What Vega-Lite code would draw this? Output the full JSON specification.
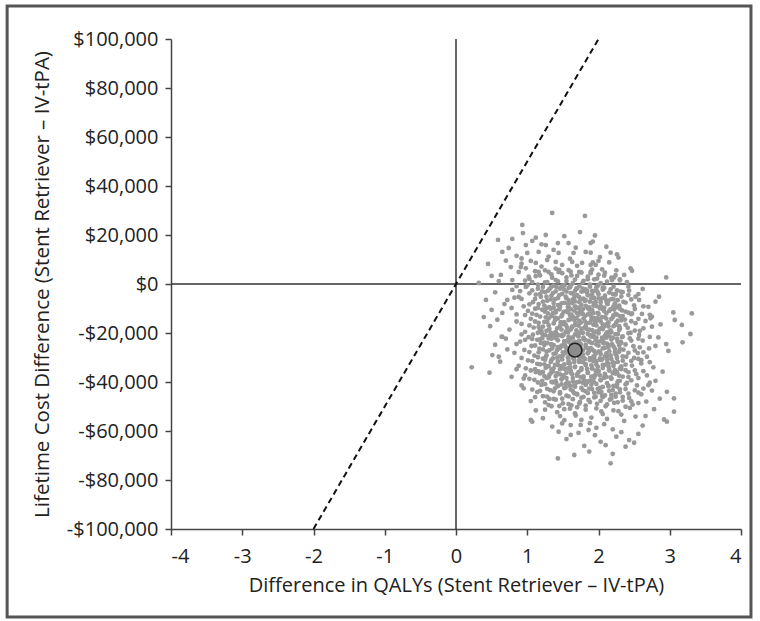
{
  "$schema": "https://vega.github.io/schema/vega-lite/v6.json",
  "width": 570,
  "height": 490,
  "autosize": "none",
  "padding": {"left": 171, "top": 39, "right": 19, "bottom": 92},
  "background": "white",
  "encoding": {
    "x": {
      "field": "q",
      "type": "quantitative",
      "scale": {"domain": [-4, 4], "nice": false, "zero": false},
      "axis": {
        "values": [-4, -3, -2, -1, 0, 1, 2, 3, 4],
        "title": "Difference in QALYs (Stent Retriever – IV-tPA)",
        "labelExpr": "datum.value < 0 ? '-' + abs(datum.value) : '' + datum.value",
        "labelPadding": 11,
        "titlePadding": 9
      }
    },
    "y": {
      "field": "c",
      "type": "quantitative",
      "scale": {"domain": [-100000, 100000], "nice": false, "zero": false},
      "axis": {
        "values": [-100000, -80000, -60000, -40000, -20000, 0, 20000, 40000, 60000, 80000, 100000],
        "title": "Lifetime Cost Difference (Stent Retriever – IV-tPA)",
        "labelExpr": "(datum.value < 0 ? '-' : '') + '$' + format(abs(datum.value), ',')",
        "labelPadding": 7,
        "titlePadding": 14,
        "titleFontSize": 20.5
      }
    }
  },
  "layer": [
    {
      "data": {"values": [{"q": -6.3, "q2": 4.14, "c": 113500, "c2": -135900}]},
      "mark": {"type": "rect", "filled": false, "stroke": "#555555", "strokeWidth": 3, "clip": false},
      "encoding": {"x2": {"field": "q2"}, "y2": {"field": "c2"}}
    },
    {
      "data": {"values": [{"q": 0, "c": -100000, "c2": 100000}]},
      "mark": {"type": "rule", "color": "#333333", "strokeWidth": 1.5},
      "encoding": {"y2": {"field": "c2"}}
    },
    {
      "data": {"values": [{"q": -4, "q2": 4, "c": 0}]},
      "mark": {"type": "rule", "color": "#333333", "strokeWidth": 1.5},
      "encoding": {"x2": {"field": "q2"}}
    },
    {
      "data": {"values": [{"q": -2, "c": -100000}, {"q": 2, "c": 100000}]},
      "mark": {"type": "line", "color": "#111111", "strokeWidth": 2, "strokeDash": [6, 4]},
      "encoding": {}
    },
    {
      "data": {
        "format": {"type": "csv", "parse": {"q": "number", "c": "number"}},
        "values": "q,c\n1.35,29000\n1.81,27800\n0.93,24100\n1.26,20000\n0.94,20800\n1.74,21200\n0.59,18000\n0.79,18400\n1.07,17600\n1.43,16700\n1.26,15900\n1.58,16700\n0.65,13100\n0.74,14700\n0.98,15900\n1.00,12700\n1.16,13100\n1.37,13900\n1.44,12700\n1.65,12700\n1.82,13100\n1.89,16700\n0.77,6900\n0.91,6900\n1.12,8600\n1.28,9800\n1.40,9000\n1.49,7800\n1.63,9000\n1.77,8600\n1.89,7800\n0.50,3300\n0.63,3700\n0.88,4900\n1.16,4900\n1.30,4900\n1.44,4900\n1.58,5700\n1.73,4900\n1.89,4900\n0.32,400\n0.79,1600\n1.07,800\n1.40,1600\n0.79,-2400\n0.98,-1200\n0.42,-6500\n0.50,-10600\n0.39,-13500\n0.65,-11800\n0.72,-6500\n0.88,-5300\n0.65,-21600\n1.92,17300\n1.89,12800\n2.17,12800\n2.26,12100\n2.05,6000\n1.96,7800\n1.89,4400\n2.45,6400\n2.47,5400\n2.36,3700\n2.22,2700\n2.19,1600\n2.95,2700\n2.43,-2700\n2.57,-6500\n2.52,-5200\n2.85,-5200\n2.80,-7200\n2.38,-11300\n2.47,-12000\n2.61,-12200\n2.75,-13300\n2.73,-14000\n3.31,-12000\n3.07,-14700\n3.17,-16700\n2.75,-17400\n2.57,-20800\n3.29,-20400\n0.64,-21500\n0.51,-29000\n0.60,-29700\n0.72,-26700\n0.22,-34000\n0.47,-36200\n0.98,-34400\n1.05,-55500\n1.07,-56200\n1.43,-71200\n1.28,-46000\n1.30,-49400\n1.44,-60300\n1.49,-56900\n1.61,-61600\n1.87,-68400\n2.95,-24500\n2.80,-25300\n2.68,-29700\n2.60,-32400\n2.80,-39500\n2.96,-44000\n3.06,-46700\n3.06,-52100\n2.96,-56200\n2.66,-53900\n2.43,-63700\n2.38,-66400\n2.03,-64400\n2.17,-73200\n0.85,11500\n1.12,18900\n1.52,19500\n1.68,14800\n2.02,11000\n2.11,15200\n1.30,11200\n0.92,10400\n1.95,19800\n1.60,10300\n2.28,10800\n1.20,16200\n0.45,8200\n0.70,9500\n1.02,3000\n1.20,7100\n1.35,2600\n1.55,1200\n1.62,3500\n1.70,7400\n1.85,1900\n1.98,2200\n2.08,3400\n2.15,8800\n2.30,1500\n1.05,9400\n1.45,5800\n0.60,1200\n1.25,700\n1.78,600\n2.00,9400\n2.40,800\n1.12,3200\n0.98,6400\n1.67,1800\n1.92,8800\n2.25,5600\n0.55,-3400\n0.68,-8200\n0.82,-5600\n0.95,-9100\n1.03,-3800\n1.08,-7400\n1.15,-1900\n1.19,-5200\n1.24,-8800\n1.29,-2800\n1.33,-6300\n1.37,-9600\n1.41,-1200\n1.45,-4600\n1.48,-7900\n1.52,-2300\n1.55,-5800\n1.58,-9200\n1.61,-600\n1.64,-3900\n1.67,-7100\n1.70,-1800\n1.73,-5400\n1.76,-8500\n1.79,-2900\n1.82,-6600\n1.85,-9900\n1.88,-1100\n1.91,-4300\n1.94,-7600\n1.97,-2500\n2.00,-5900\n2.03,-9000\n2.06,-1500\n2.09,-4800\n2.13,-8200\n2.17,-2200\n2.21,-6100\n2.26,-9400\n2.31,-3100\n2.35,-7300\n2.42,-4500\n2.50,-8700\n2.62,-2000\n2.70,-9300\n1.12,-4300\n1.36,-3700\n1.57,-8100\n1.84,-3600\n2.11,-6900\n0.78,-9800\n1.00,-600\n1.27,-9900\n1.50,-700\n1.72,-9700\n1.99,-700\n2.24,-4000\n0.90,-2900\n1.43,-8600\n1.93,-8800\n0.48,-17200\n0.58,-14600\n0.75,-18600\n0.85,-12400\n0.92,-16300\n0.97,-19500\n1.01,-11000\n1.05,-14200\n1.09,-17800\n1.13,-12600\n1.16,-15900\n1.20,-19200\n1.23,-10700\n1.26,-13600\n1.30,-16800\n1.33,-19900\n1.36,-11900\n1.39,-14800\n1.42,-18100\n1.45,-10300\n1.48,-13200\n1.51,-16400\n1.54,-19600\n1.57,-11500\n1.60,-14400\n1.63,-17600\n1.66,-10900\n1.69,-13900\n1.72,-17000\n1.75,-19800\n1.78,-12200\n1.81,-15300\n1.84,-18500\n1.87,-10500\n1.90,-13500\n1.93,-16600\n1.96,-19400\n1.99,-11800\n2.02,-14900\n2.05,-18000\n2.08,-11100\n2.11,-14100\n2.14,-17300\n2.18,-19700\n2.21,-12800\n2.25,-15700\n2.29,-18800\n2.33,-10800\n2.37,-14500\n2.41,-17900\n2.46,-12300\n2.52,-16000\n2.58,-19100\n2.66,-15100\n2.87,-16500\n3.05,-11600\n1.11,-10100\n1.29,-12000\n1.47,-15600\n1.62,-12500\n1.80,-17900\n1.95,-15100\n2.12,-19800\n2.30,-13100\n1.40,-11600\n1.68,-16100\n1.88,-12300\n2.06,-16500\n2.22,-10400\n1.18,-18700\n1.56,-17700\n1.74,-11300\n2.00,-19200\n2.45,-19900\n0.55,-24800\n0.70,-22300\n0.82,-28100\n0.90,-23500\n0.96,-26900\n1.02,-21700\n1.06,-25300\n1.10,-29200\n1.14,-22800\n1.17,-26400\n1.21,-20300\n1.24,-23900\n1.27,-27600\n1.31,-21200\n1.34,-24700\n1.37,-28500\n1.40,-22100\n1.43,-25800\n1.46,-29500\n1.49,-20800\n1.52,-23300\n1.55,-27100\n1.58,-21500\n1.61,-24300\n1.64,-28800\n1.67,-20600\n1.70,-23700\n1.73,-26600\n1.76,-29900\n1.79,-22500\n1.82,-25600\n1.85,-28300\n1.88,-20900\n1.91,-24100\n1.94,-27400\n1.97,-21900\n2.00,-25100\n2.03,-28600\n2.06,-22700\n2.09,-26100\n2.12,-29400\n2.15,-21300\n2.19,-24500\n2.23,-27800\n2.27,-20500\n2.31,-23600\n2.35,-26800\n2.39,-29700\n2.44,-22200\n2.49,-25400\n2.55,-28200\n2.62,-23100\n2.71,-26300\n2.84,-21800\n2.98,-27300\n3.18,-23800\n1.08,-20700\n1.26,-29800\n1.44,-21000\n1.60,-29000\n1.78,-27000\n1.96,-23000\n2.14,-25700\n2.33,-21700\n1.35,-26300\n1.53,-25200\n1.71,-21100\n1.89,-26200\n2.07,-24200\n2.25,-29100\n1.19,-24100\n1.39,-20000\n1.57,-22900\n1.75,-24600\n1.93,-29600\n2.11,-20200\n2.29,-25000\n2.58,-25900\n1.50,-27900\n1.86,-23200\n0.62,-31700\n0.78,-37900\n0.88,-33400\n0.95,-38600\n1.01,-31200\n1.05,-35300\n1.10,-39100\n1.14,-32600\n1.18,-36500\n1.22,-30500\n1.26,-34200\n1.30,-38100\n1.33,-31800\n1.36,-35700\n1.40,-39600\n1.43,-33100\n1.46,-36900\n1.49,-30800\n1.52,-34600\n1.55,-38400\n1.58,-32300\n1.61,-36100\n1.64,-39800\n1.67,-33700\n1.70,-37400\n1.73,-31000\n1.76,-35000\n1.79,-38800\n1.82,-32700\n1.85,-36300\n1.88,-30300\n1.91,-34400\n1.94,-38200\n1.97,-31500\n2.00,-35500\n2.03,-39300\n2.06,-33000\n2.09,-36700\n2.12,-30700\n2.15,-34800\n2.18,-38700\n2.22,-32200\n2.26,-36000\n2.30,-39500\n2.34,-31300\n2.38,-35200\n2.42,-38000\n2.47,-33300\n2.53,-36800\n2.60,-31100\n2.68,-37300\n2.77,-34000\n2.90,-35800\n1.24,-37600\n1.42,-30100\n1.60,-34100\n1.78,-31900\n1.96,-37000\n2.14,-32500\n2.32,-34700\n1.12,-36000\n1.48,-39000\n1.66,-30900\n1.84,-39900\n2.02,-30400\n2.20,-36400\n2.50,-30200\n1.34,-34900\n1.90,-33200\n2.08,-38300\n0.95,-42600\n1.05,-47800\n1.14,-44100\n1.20,-41200\n1.25,-48300\n1.32,-43300\n1.37,-46900\n1.41,-40700\n1.46,-44700\n1.50,-48700\n1.54,-42200\n1.58,-45900\n1.62,-49500\n1.66,-41500\n1.70,-44900\n1.74,-48100\n1.78,-40300\n1.82,-43800\n1.86,-47300\n1.90,-41100\n1.94,-44400\n1.98,-48900\n2.02,-42400\n2.06,-46200\n2.10,-49900\n2.14,-41800\n2.18,-45300\n2.22,-48500\n2.26,-40900\n2.30,-44200\n2.34,-47600\n2.38,-42900\n2.43,-46500\n2.48,-49200\n2.54,-41400\n2.60,-45000\n2.67,-48000\n2.75,-43500\n2.86,-46800\n1.45,-49800\n1.64,-43700\n1.84,-40100\n2.04,-44000\n2.24,-46000\n2.40,-40400\n1.76,-46400\n1.96,-46000\n2.16,-47200\n2.56,-44300\n1.56,-40200\n2.70,-41300\n1.12,-51600\n1.22,-54800\n1.35,-58200\n1.42,-52300\n1.52,-55600\n1.60,-50900\n1.68,-53700\n1.75,-57500\n1.82,-51300\n1.90,-54500\n1.97,-58700\n2.04,-52000\n2.12,-55100\n2.20,-59300\n2.28,-51900\n2.36,-55900\n2.44,-50600\n2.52,-54100\n2.62,-57800\n2.78,-51100\n2.92,-55300\n1.86,-59600\n2.08,-57200\n2.32,-53300\n1.70,-50300\n1.55,-63300\n1.72,-60800\n1.80,-66100\n1.95,-61700\n2.10,-65800\n2.25,-62300\n2.32,-60500\n2.50,-64800\n1.66,-69800\n2.20,-69300\n2.56,-61200\n1.03,2100\n1.03,-8300\n1.03,-16900\n1.03,-27800\n1.03,-38700\n1.07,-2600\n1.07,-12100\n1.07,-22400\n1.07,-31500\n1.07,-43100\n1.11,5200\n1.11,-6100\n1.11,-15300\n1.11,-25100\n1.11,-34800\n1.11,-46200\n1.15,-300\n1.15,-9800\n1.15,-19900\n1.15,-29900\n1.15,-40200\n1.18,3500\n1.18,-4100\n1.18,-13300\n1.18,-22600\n1.18,-32800\n1.18,-43600\n1.22,-1200\n1.22,-7200\n1.22,-17400\n1.22,-26700\n1.22,-35900\n1.22,-45800\n1.25,5600\n1.25,-3300\n1.25,-11300\n1.25,-20900\n1.25,-30900\n1.25,-40900\n1.25,-51300\n1.28,800\n1.28,-6800\n1.28,-15400\n1.28,-24100\n1.28,-33600\n1.28,-42800\n1.31,-2100\n1.31,-9400\n1.31,-18300\n1.31,-27100\n1.31,-37100\n1.31,-46900\n1.34,3900\n1.34,-4800\n1.34,-13100\n1.34,-22300\n1.34,-31000\n1.34,-40000\n1.34,-49900\n1.37,-700\n1.37,-7800\n1.37,-16100\n1.37,-25000\n1.37,-34400\n1.37,-43800\n1.40,6300\n1.40,-3000\n1.40,-10900\n1.40,-19700\n1.40,-28300\n1.40,-37600\n1.40,-47200\n1.43,1100\n1.43,-5800\n1.43,-14000\n1.43,-23000\n1.43,-31500\n1.43,-41700\n1.46,-1900\n1.46,-9300\n1.46,-17100\n1.46,-26200\n1.46,-34800\n1.46,-44100\n1.46,-53900\n1.49,4400\n1.49,-4000\n1.49,-12600\n1.49,-21300\n1.49,-29600\n1.49,-38500\n1.49,-46800\n1.52,-500\n1.52,-7700\n1.52,-15600\n1.52,-24100\n1.52,-32800\n1.52,-42500\n1.52,-51100\n1.55,2700\n1.55,-3100\n1.55,-11100\n1.55,-19300\n1.55,-28000\n1.55,-36200\n1.55,-45600\n1.58,-1600\n1.58,-6600\n1.58,-14700\n1.58,-23600\n1.58,-31400\n1.58,-40400\n1.58,-49000\n1.61,5000\n1.61,-3700\n1.61,-10300\n1.61,-18600\n1.61,-26900\n1.61,-35300\n1.61,-43100\n1.61,-57600\n1.64,300\n1.64,-6400\n1.64,-13300\n1.64,-21800\n1.64,-30300\n1.64,-38400\n1.64,-47000\n1.67,-2800\n1.67,-9100\n1.67,-16800\n1.67,-25600\n1.67,-33900\n1.67,-41900\n1.67,-52800\n1.70,3300\n1.70,-4600\n1.70,-11900\n1.70,-20100\n1.70,-28700\n1.70,-36900\n1.70,-45100\n1.73,-900\n1.73,-7400\n1.73,-15000\n1.73,-23200\n1.73,-31800\n1.73,-39900\n1.73,-48800\n1.76,4700\n1.76,-3100\n1.76,-10900\n1.76,-18300\n1.76,-26700\n1.76,-34300\n1.76,-42400\n1.76,-55500\n1.79,1300\n1.79,-6000\n1.79,-14100\n1.79,-21900\n1.79,-30000\n1.79,-37700\n1.79,-46100\n1.82,-2200\n1.82,-8900\n1.82,-17200\n1.82,-24800\n1.82,-33100\n1.82,-41200\n1.82,-49700\n1.85,3000\n1.85,-4600\n1.85,-12400\n1.85,-20300\n1.85,-28100\n1.85,-36100\n1.85,-44500\n1.88,-300\n1.88,-7200\n1.88,-15800\n1.88,-23700\n1.88,-31100\n1.88,-39400\n1.88,-48200\n1.88,-56800\n1.91,5900\n1.91,-2800\n1.91,-10600\n1.91,-18800\n1.91,-26700\n1.91,-34500\n1.91,-42900\n1.94,1900\n1.94,-5700\n1.94,-13900\n1.94,-21700\n1.94,-29900\n1.94,-37500\n1.94,-46300\n1.97,-1300\n1.97,-9000\n1.97,-16900\n1.97,-24700\n1.97,-32900\n1.97,-40800\n1.97,-50800\n2.00,3800\n2.00,-4200\n2.00,-12200\n2.00,-20100\n2.00,-27600\n2.00,-35800\n2.00,-44200\n2.03,300\n2.03,-7400\n2.03,-15300\n2.03,-23300\n2.03,-31000\n2.03,-39100\n2.03,-47700\n2.06,-2300\n2.06,-10200\n2.06,-18400\n2.06,-26300\n2.06,-34300\n2.06,-42000\n2.06,-53100\n2.09,4600\n2.09,-5600\n2.09,-13600\n2.09,-21200\n2.09,-29500\n2.09,-37400\n2.09,-45500\n2.12,1000\n2.12,-8000\n2.12,-16300\n2.12,-24300\n2.12,-32300\n2.12,-40500\n2.12,-49100\n2.15,-3500\n2.15,-11000\n2.15,-19400\n2.15,-27400\n2.15,-35300\n2.15,-43600\n2.18,2600\n2.18,-6200\n2.18,-14300\n2.18,-22700\n2.18,-30600\n2.18,-38500\n2.18,-46800\n2.21,-1100\n2.21,-9100\n2.21,-17200\n2.21,-25500\n2.21,-33500\n2.21,-41600\n2.21,-51600\n2.24,3600\n2.24,-4300\n2.24,-12200\n2.24,-20500\n2.24,-28600\n2.24,-36600\n2.24,-44800\n2.27,-6600\n2.27,-15000\n2.27,-23600\n2.27,-31800\n2.27,-39800\n2.27,-48300\n2.30,1900\n2.30,-10100\n2.30,-18200\n2.30,-26600\n2.30,-34500\n2.30,-43000\n2.34,-3300\n2.34,-13100\n2.34,-21400\n2.34,-29600\n2.34,-37800\n2.34,-46100\n2.38,-7600\n2.38,-16600\n2.38,-24700\n2.38,-32900\n2.38,-41000\n2.38,-50100\n2.42,-1100\n2.42,-11700\n2.42,-20100\n2.42,-28100\n2.42,-36000\n2.42,-44800\n2.46,-6300\n2.46,-15200\n2.46,-23100\n2.46,-31400\n2.46,-39300\n2.46,-47900\n2.51,-10200\n2.51,-19000\n2.51,-27100\n2.51,-35300\n2.51,-43400\n2.56,-4100\n2.56,-14200\n2.56,-22300\n2.56,-30600\n2.56,-38400\n2.56,-48600\n2.63,-9100\n2.63,-18100\n2.63,-27900\n2.63,-35600\n2.63,-42700\n2.72,-12600\n2.72,-21600\n2.72,-31900\n2.72,-40300\n0.85,-900\n0.85,-15300\n0.85,-24500\n0.85,-34800\n0.92,8300\n0.92,-6100\n0.92,-20600\n0.92,-30200\n0.92,-41400\n0.97,1400\n0.97,-12700\n0.97,-22800\n0.97,-37300\n1.27,-5200\n1.27,-19100\n1.27,-29100\n1.27,-38400\n1.33,-1400\n1.33,-10100\n1.33,-24500\n1.33,-36400\n1.39,-6200\n1.39,-13700\n1.39,-33000\n1.39,-42600\n1.42,-20700\n1.42,-27000\n1.42,-36400\n1.48,-1000\n1.48,-18600\n1.48,-25200\n1.48,-33500\n1.48,-41000\n1.51,-11400\n1.51,-20700\n1.51,-28800\n1.51,-37300\n1.54,-5200\n1.54,-16600\n1.54,-25800\n1.54,-40900\n1.57,-9400\n1.57,-19700\n1.57,-30000\n1.57,-34400\n1.60,-1300\n1.60,-12700\n1.60,-22500\n1.60,-32500\n1.60,-41600\n1.63,-7800\n1.63,-17400\n1.63,-27700\n1.63,-36800\n1.66,-5500\n1.66,-14700\n1.66,-23500\n1.66,-31800\n1.66,-44600\n1.69,-1800\n1.69,-9800\n1.69,-18900\n1.69,-26200\n1.69,-40200\n1.72,-12600\n1.72,-21400\n1.72,-29300\n1.72,-35900\n1.75,-6300\n1.75,-15800\n1.75,-24900\n1.75,-38000\n1.78,-1900\n1.78,-10300\n1.78,-19900\n1.78,-28700\n1.78,-43300\n1.81,-6900\n1.81,-13100\n1.81,-22800\n1.81,-30700\n1.81,-39700\n1.84,-2800\n1.84,-16000\n1.84,-26200\n1.84,-34700\n1.87,-9600\n1.87,-18600\n1.87,-27300\n1.87,-42700\n1.90,-5800\n1.90,-14700\n1.90,-21500\n1.90,-37800\n1.93,-2900\n1.93,-11800\n1.93,-20300\n1.93,-31500\n1.93,-39800\n1.96,-7400\n1.96,-15300\n1.96,-28500\n1.96,-35400\n1.99,-3500\n1.99,-13900\n1.99,-23600\n1.99,-33800\n1.99,-42800\n2.02,-9900\n2.02,-18200\n2.02,-27600\n2.02,-37300\n2.05,-5900\n2.05,-13500\n2.05,-21900\n2.05,-30800\n2.05,-45500\n2.08,-1600\n2.08,-9700\n2.08,-17300\n2.08,-24000\n2.08,-33100\n2.11,-12000\n2.11,-21900\n2.11,-28300\n2.11,-37900\n2.14,-6800\n2.14,-15700\n2.14,-25000\n2.14,-33700\n2.14,-41600\n2.17,-10300\n2.17,-18900\n2.17,-29100\n2.17,-38100\n2.20,-4100\n2.20,-13600\n2.20,-21900\n2.20,-32000\n2.20,-43300\n2.23,-7900\n2.23,-16800\n2.23,-26500\n2.23,-35200\n2.26,-2600\n2.26,-12500\n2.26,-22400\n2.26,-30200\n2.26,-41900\n2.29,-8800\n2.29,-17200\n2.29,-27700\n2.29,-37400\n2.32,-5100\n2.32,-14800\n2.32,-24000\n2.32,-33600\n1.36,-21100\n1.36,-30400\n1.36,-40100\n1.30,-14000\n1.30,-22200\n1.30,-33500\n1.24,-15500\n1.24,-24900\n1.24,-32800\n1.21,-3000\n1.21,-10500\n1.21,-22100\n1.21,-39500\n1.16,-8200\n1.16,-17600\n1.16,-27900\n1.16,-35700"
      },
      "mark": {"type": "circle", "size": 23, "color": "#999999", "opacity": 1}
    },
    {
      "data": {"values": [{"q": 1.67, "c": -27000}]},
      "mark": {"type": "point", "filled": true, "shape": "circle", "size": 190, "fill": "#8c8c8c", "stroke": "#222222", "strokeWidth": 1.6, "opacity": 1}
    }
  ],
  "config": {
    "view": {"stroke": null},
    "font": "Open Sans",
    "axis": {
      "grid": false,
      "domainColor": "#444444",
      "domainWidth": 1.5,
      "tickColor": "#444444",
      "tickWidth": 1.5,
      "tickSize": 6,
      "labelFont": "Open Sans",
      "labelFontSize": 20,
      "labelColor": "#222222",
      "titleFont": "Open Sans",
      "titleFontSize": 20,
      "titleFontWeight": "normal",
      "titleColor": "#222222"
    }
  }
}
